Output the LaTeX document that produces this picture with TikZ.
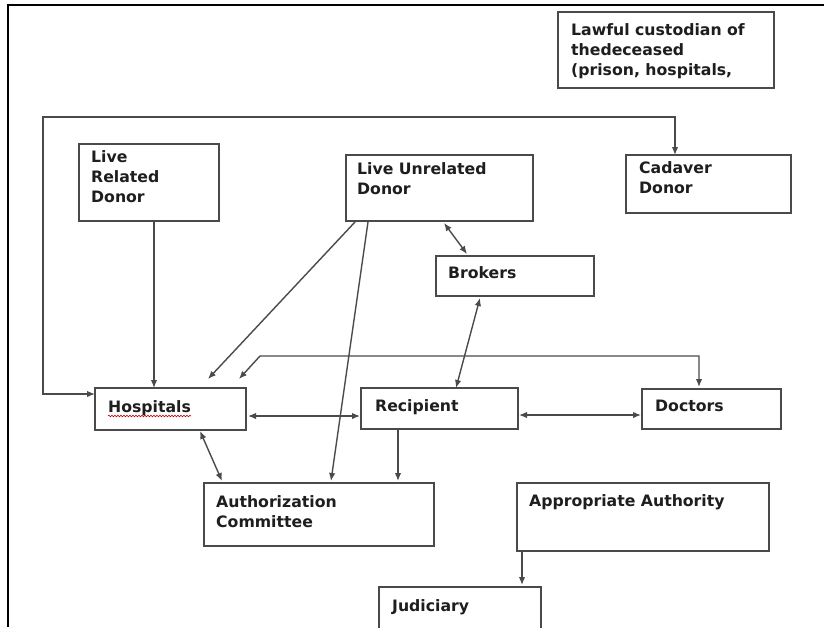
\documentclass[tikz,border=0pt]{standalone}
\usepackage{fontspec}
\setmainfont{DejaVu Sans}
\usetikzlibrary{arrows.meta,calc,decorations.pathmorphing}
\definecolor{boxc}{HTML}{4A4A4A}
\definecolor{linec}{HTML}{4A4A4A}
\definecolor{txtc}{HTML}{1E1E1E}
\begin{document}
\begin{tikzpicture}[x=1pt,y=-1pt,
  box/.style={draw=boxc,line width=1.6pt,inner sep=0pt,outer sep=0pt,anchor=north west},
  lbl/.style={anchor=base west,inner sep=0pt,text=txtc,font=\bfseries\fontsize{15.7}{20}\selectfont,align=left},
  conn/.style={draw=linec,line width=1.4pt},
  tip/.style={-{Latex[length=8pt,width=6.5pt]}},
  tips/.style={{Latex[length=8pt,width=6.5pt]}-{Latex[length=8pt,width=6.5pt]}}]
\useasboundingbox (0,0) rectangle (824,627);
\clip (0,0) rectangle (824,627);
\fill[white] (0,0) rectangle (824,627);
% outer frame
\draw[black,line width=1.2pt] (8,627) -- (8,5) -- (824,5);
% boxes
\node[box,minimum width=216pt,minimum height=76pt] (law) at (558,12) {};
\node[box,minimum width=140pt,minimum height=77pt] (lrd) at (79,144) {};
\node[box,minimum width=187pt,minimum height=66pt] (lud) at (346,155) {};
\node[box,minimum width=165pt,minimum height=58pt] (cad) at (626,155) {};
\node[box,minimum width=158pt,minimum height=40pt] (brk) at (436,256) {};
\node[box,minimum width=151pt,minimum height=42pt] (hos) at (95,388) {};
\node[box,minimum width=157pt,minimum height=41pt] (rec) at (361,388) {};
\node[box,minimum width=139pt,minimum height=40pt] (doc) at (642,389) {};
\node[box,minimum width=230pt,minimum height=63pt] (ac) at (204,483) {};
\node[box,minimum width=252pt,minimum height=68pt] (aa) at (517,483) {};
\node[box,minimum width=162pt,minimum height=60pt] (jud) at (379,587) {};
% labels (anchored at the baseline of the last line)
\node[lbl] (tlaw) at (571,75) {Lawful custodian of\\thedeceased\\(prison, hospitals,};
\node[lbl] (tlrd) at (91,202) {Live\\Related\\Donor};
\node[lbl] (tlud) at (357,194) {Live Unrelated\\Donor};
\node[lbl] (tcad) at (639,193) {Cadaver\\Donor};
\node[lbl] (tbrk) at (448,278) {Brokers};
\node[lbl] (thos) at (108,412) {Hospitals};
\node[lbl] (trec) at (375,411) {Recipient};
\node[lbl] (tdoc) at (655,411) {Doctors};
\node[lbl] (tac) at (216,527) {Authorization\\Committee};
\node[lbl] (taa) at (529,506) {Appropriate Authority};
\node[lbl] (tjud) at (392,611) {Judiciary};
% spell-check underline
\draw[red!75!black,line width=0.6pt,decorate,decoration={snake,amplitude=0.8pt,segment length=3pt}]
  ($(thos.base west)+(0,4)$) -- ($(thos.base east)+(0,4)$);
% helper coordinates
\coordinate (c1) at (43,117);
\coordinate (c2) at (675,117);
\coordinate (c3) at (260,356);
\coordinate (c4) at (699,356);
% connectors
\draw[conn,tips] ($(hos.north west)+(0,6)$) -- ($(hos.north west)+(-52,6)$) -- (c1) -- (c2) -- (cad.north west -| c2);
\draw[conn,tip] ($(lrd.south west)+(75,0)$) -- ($(hos.north west)+(59,0)$);
\draw[conn,tip] ($(lud.south west)+(9,1)$) -- ($(hos.north west)+(113,-9)$);
\draw[conn,tip] ($(lud.south west)+(22,1)$) -- ($(ac.north west)+(127,-2)$);
\draw[conn,tips] ($(lud.south west)+(98,2)$) -- ($(brk.north west)+(31,-2)$);
\draw[conn,tips] ($(brk.south west)+(44,2)$) -- ($(rec.north west)+(95,0)$);
\draw[conn,tips] ($(hos.north west)+(144,-9)$) -- (c3) -- (c4) -- ($(doc.north west)+(57,-2)$);
\draw[conn,tips] ($(hos.north east)+(2,28)$) -- ($(rec.north west)+(-1,28)$);
\draw[conn,tips] ($(rec.north east)+(1,27)$) -- ($(doc.north west)+(-1,26)$);
\draw[conn,tips] ($(hos.south west)+(105,1)$) -- ($(ac.north west)+(18,-2)$);
\draw[conn,tip] ($(rec.south west)+(37,0)$) -- ($(ac.north west)+(194,-2)$);
\draw[conn,tip] ($(aa.south west)+(5,0)$) -- ($(jud.north west)+(143,-2)$);
\end{tikzpicture}
\end{document}
